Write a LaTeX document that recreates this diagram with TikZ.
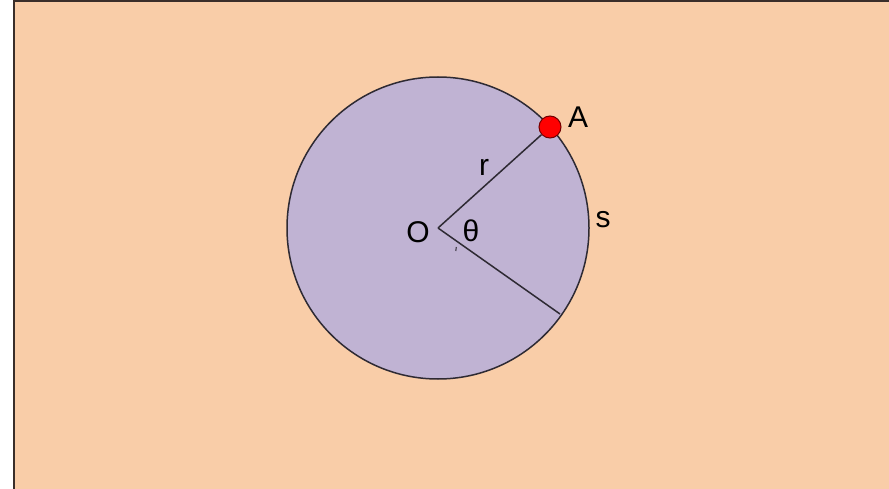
\documentclass[tikz,border=0pt]{standalone}
\usepackage{fontspec}
\setmainfont{Liberation Sans}
\definecolor{peach}{HTML}{F9CDA8}
\definecolor{lavender}{HTML}{C0B3D3}
\definecolor{frame}{HTML}{3A2E2A}
\definecolor{ink}{HTML}{2E2A33}
\begin{document}
\begin{tikzpicture}[x=1pt,y=-1pt]
\tikzset{lbl/.style={font=\fontsize{30}{33}\selectfont, inner sep=0pt, text=black}}
\useasboundingbox (0,0) rectangle (889,489);
\fill[white] (0,0) rectangle (889,489);
\fill[peach] (14,2) rectangle (889,489);
\draw[frame, line width=2pt] (14,489) -- (14,1.5) -- (889,1.5);
\coordinate (O) at (438,228);
\coordinate (B) at (560,314);
\draw[ink, fill=lavender, line width=1.5pt] (O) circle (151);
\node[circle, fill=red, draw=red!45!black, line width=1pt, minimum size=22, inner sep=0pt] (A) at (550,127) {};
\draw[ink, line width=1.5pt] (O) -- (A);
\draw[ink, line width=1.5pt] (O) -- (B);
\draw[ink, line width=1pt] (456.3,247) -- (455.8,251);
\node[lbl] (lo) at (418,232) {O};
\node[lbl] (lt) at (471,231) {θ};
\node[lbl] (lr) at (484,167) {r};
\node[lbl] (ls) at (603,220) {s};
\node[lbl] (la) at (578,117) {A};
\end{tikzpicture}
\end{document}
